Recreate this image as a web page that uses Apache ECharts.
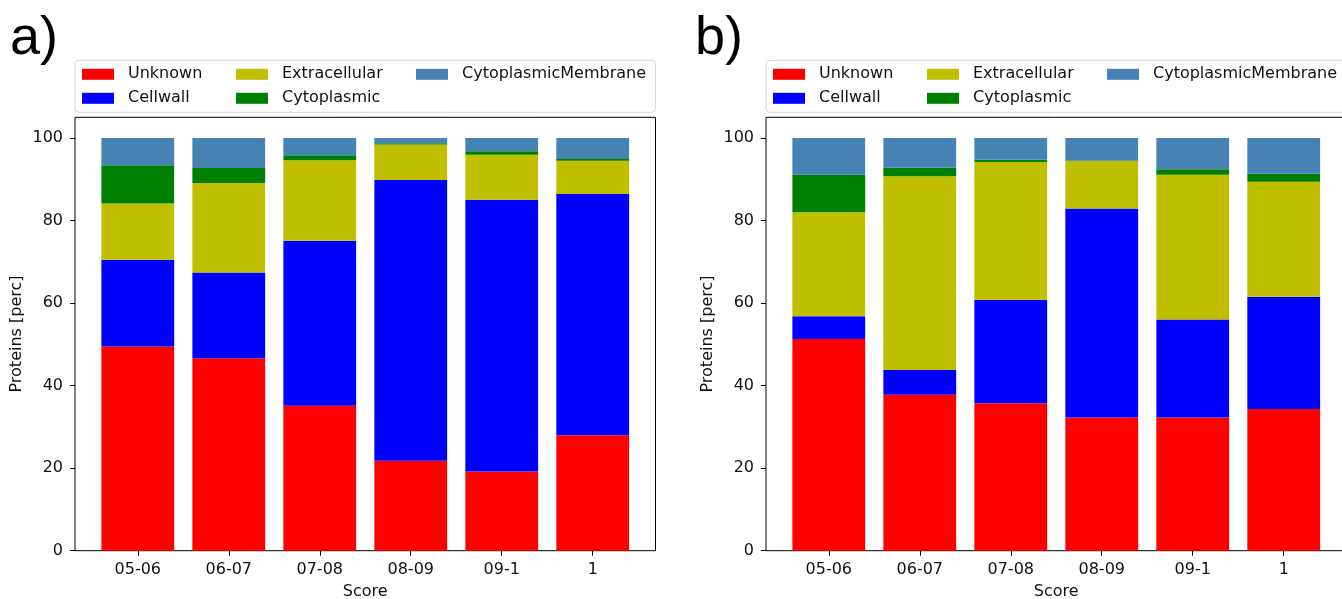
<!DOCTYPE html>
<html>
<head>
<meta charset="utf-8">
<script src="https://cdn.jsdelivr.net/npm/echarts@6/dist/echarts.min.js"></script>
<style>
html,body{margin:0;padding:0;background:#fff;}
#c{width:1342px;height:599px;}
</style>
</head>
<body>
<div id="c"></div>
<script>
// ---- data ----
const categories = ['05-06', '06-07', '07-08', '08-09', '09-1', '1'];
const seriesNames = ['Unknown', 'Cellwall', 'Extracellular', 'Cytoplasmic', 'CytoplasmicMembrane'];
const seriesColors = ['#ff0000', '#0000ff', '#bfbf00', '#008000', '#4682b4'];
const yTicks = [0, 20, 40, 60, 80, 100];

// panel a)
const aUnknown = [49.5, 46.6, 35.1, 21.8, 19.2, 28.0];
const aCellwall = [21.0, 20.8, 40.0, 68.0, 65.8, 58.4];
const aExtracellular = [13.6, 21.7, 19.5, 8.6, 10.9, 8.1];
const aCytoplasmic = [9.3, 3.6, 1.2, 0.3, 0.9, 0.4];
const aCytoMembrane = [6.6, 7.3, 4.2, 1.3, 3.2, 5.1];

// panel b)
const bUnknown = [51.3, 37.8, 35.7, 32.3, 32.3, 34.3];
const bCellwall = [5.5, 6.0, 25.1, 50.6, 23.7, 27.2];
const bExtracellular = [25.2, 46.9, 33.4, 11.5, 35.1, 27.9];
const bCytoplasmic = [9.1, 2.1, 0.5, 0.1, 1.3, 1.9];
const bCytoMembrane = [8.9, 7.2, 5.3, 5.5, 7.6, 8.7];

const panelA = [aUnknown, aCellwall, aExtracellular, aCytoplasmic, aCytoMembrane];
const panelB = [bUnknown, bCellwall, bExtracellular, bCytoplasmic, bCytoMembrane];

// ---- layout ----
const FONT = 'DejaVu Sans';
const frameTop = 117.3, frameH = 433.4, frameW = 580.5;
const frameLeft = [75, 766];
const unit = frameW / 6.38;          // px per category unit (matplotlib margins)
const inset = 0.19 * unit;           // gap between frame and first band

const grids = [], xAxes = [], yAxes = [], series = [], legends = [], graphics = [];

[panelA, panelB].forEach((panel, p) => {
  const L = frameLeft[p];
  // data grid
  grids.push({left: L + inset, top: frameTop, width: 6 * unit, height: frameH, show: false, containLabel: false, outerBoundsMode: 'none'});
  xAxes.push({
    type: 'category', gridIndex: p, data: categories,
    axisLine: {show: false},
    axisTick: {show: true, alignWithLabel: true, length: 5, lineStyle: {color: '#000', width: 1}},
    axisLabel: {color: '#111', fontFamily: FONT, fontSize: 16, margin: 11},
    name: 'Score', nameLocation: 'middle', nameGap: 33,
    nameTextStyle: {color: '#111', fontFamily: FONT, fontSize: 16},
    splitLine: {show: false}
  });
  yAxes.push({
    type: 'value', gridIndex: p, min: 0, max: 105, offset: inset,
    axisLine: {show: false},
    axisTick: {show: true, length: 5, customValues: yTicks, lineStyle: {color: '#000', width: 1}},
    axisLabel: {color: '#111', fontFamily: FONT, fontSize: 16, margin: 12, customValues: yTicks},
    splitLine: {show: false},
    name: 'Proteins [perc]', nameLocation: 'middle', nameRotate: 90, nameGap: 50,
    nameTextStyle: {color: '#111', fontFamily: FONT, fontSize: 16}
  });
  panel.forEach((vals, i) => {
    series.push({
      type: 'bar', name: seriesNames[i], stack: 'p' + p,
      xAxisIndex: p, yAxisIndex: p, data: vals, barWidth: '80%',
      itemStyle: {color: seriesColors[i]},
      emphasis: {disabled: true}, animation: false
    });
  });
  // legend columns (matplotlib ncol=3, column-major)
  const cols = [[0, 1], [2, 3], [4]];
  const colX = [82, 236, 416];
  cols.forEach((idx, c) => {
    legends.push({
      orient: 'vertical', left: L + colX[c] - 75, top: 66.3, padding: 0,
      itemWidth: 32, itemHeight: 11, itemGap: 8, icon: 'rect',
      data: idx.map(k => seriesNames[k]),
      textStyle: {color: '#111', fontFamily: FONT, fontSize: 16, lineHeight: 16, padding: [0, 0, 0, 9]},
      selectedMode: false
    });
  });
  graphics.push({
    type: 'rect', z: -1,
    shape: {x: L, y: 60.3, width: frameW, height: 52, r: 4},
    style: {fill: '#fff', stroke: '#d5d5d5', lineWidth: 1}
  });
});

// frame grids
frameLeft.forEach((L, p) => {
  grids.push({left: L, top: frameTop, width: frameW, height: frameH, show: true, borderColor: '#000', borderWidth: 1, backgroundColor: 'transparent', containLabel: false, outerBoundsMode: 'none'});
  xAxes.push({type: 'value', gridIndex: 2 + p, show: false, min: 0, max: 1});
  yAxes.push({type: 'value', gridIndex: 2 + p, show: false, min: 0, max: 1});
});

const chart = echarts.init(document.getElementById('c'), null, {renderer: 'canvas'});
chart.setOption({
  backgroundColor: '#fff',
  animation: false,
  title: [
    {text: 'a)', left: 10, top: 12, padding: 0, textStyle: {fontFamily: 'Liberation Sans', fontSize: 54, fontWeight: 'normal', color: '#000'}},
    {text: 'b)', left: 695, top: 12, padding: 0, textStyle: {fontFamily: 'Liberation Sans', fontSize: 54, fontWeight: 'normal', color: '#000'}}
  ],
  grid: grids,
  xAxis: xAxes,
  yAxis: yAxes,
  legend: legends,
  graphic: graphics,
  series: series
});
</script>
</body>
</html>
